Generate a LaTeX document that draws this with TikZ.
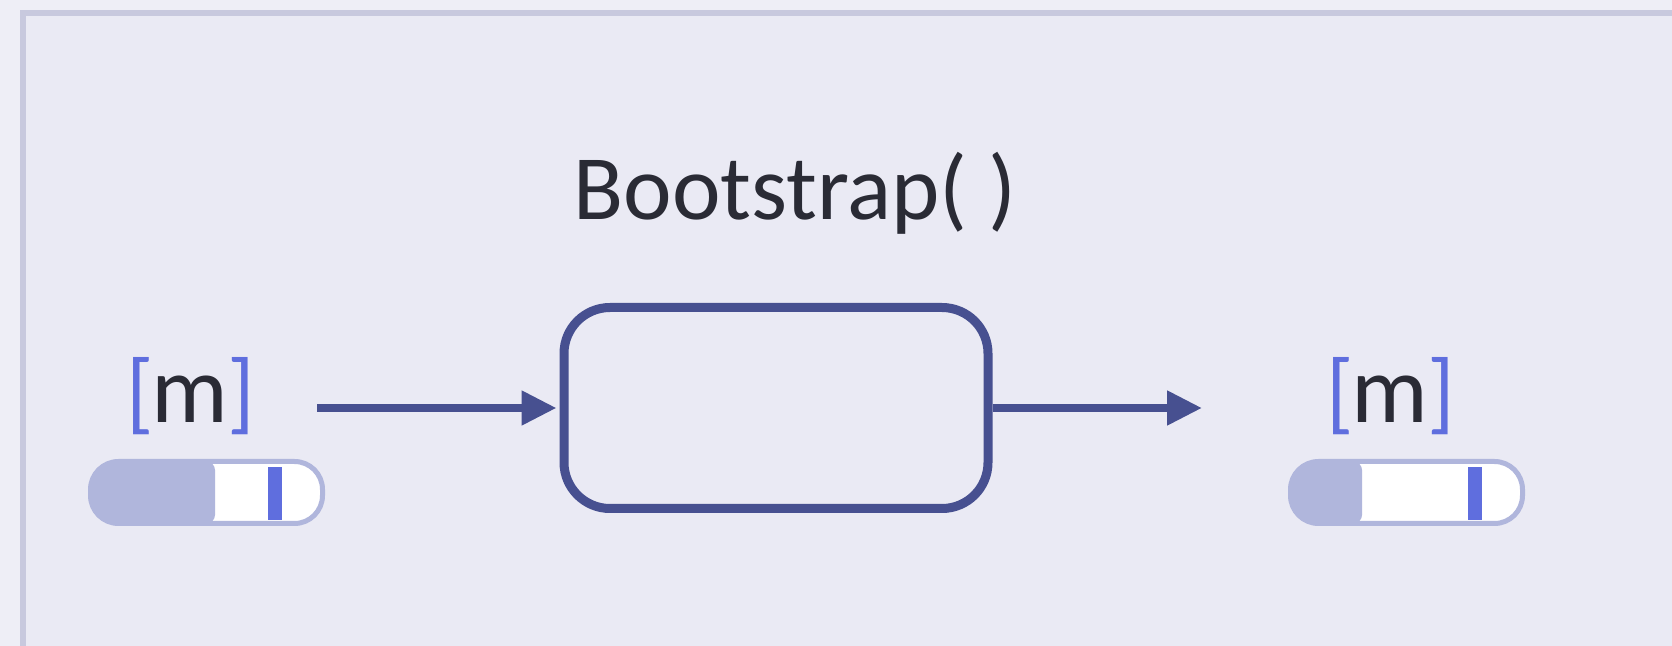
\documentclass[tikz,border=0pt]{standalone}
\usepackage{fontspec}
\setmainfont{Carlito}
\usetikzlibrary{arrows.meta}
\definecolor{pagebg}{HTML}{EEEEF6}
\definecolor{framebg}{HTML}{EAEAF4}
\definecolor{framecol}{HTML}{C8C9DE}
\definecolor{navy}{HTML}{475090}
\definecolor{inkdark}{HTML}{2A2B35}
\definecolor{brk}{HTML}{5F6EDE}
\definecolor{barcol}{HTML}{B0B6DC}
\newcommand\brkfont{\fontsize{45pt}{50pt}\selectfont\color{brk}}
\tikzset{
  bootbox/.style={draw=navy, line width=4.5pt, rounded corners=23pt,
    minimum width=212pt, minimum height=100.5pt, inner sep=0pt},
  flow/.style={navy, line width=4pt,
    -{Triangle[length=17.5pt, width=16.5pt]}},
  titletext/.style={text=inkdark, font=\fontsize{46pt}{50pt}\selectfont, inner sep=0pt, anchor=base},
  mtext/.style={text=inkdark, font=\fontsize{48pt}{52pt}\selectfont, inner sep=0pt, anchor=base},
  pillline/.style={draw=barcol, line width=2.5pt, rounded corners=14pt},
}
\begin{document}
\begin{tikzpicture}[x=0.5pt,y=-0.5pt]
\useasboundingbox (0,0) rectangle (1672,646);
\fill[pagebg] (0,0) rectangle (1672,646);
\draw[framecol, line width=3pt, fill=framebg] (23,13) rectangle (1700,700);

\node[titletext] (title) at (795,220) {Bootstrap( )};
\node[bootbox] (boot) at (776,408) {};

\coordinate (inStart) at (317,408);
\coordinate (outEnd) at (1202,408);
\draw[flow, shorten >=1.5pt] (inStart) -- (boot.west);
\draw[flow] (boot.east) -- (outEnd);

\foreach \off/\fe/\nm in {0/215/L, 1200/1362/R}{
  \node[mtext] (m\nm) at (190.5+\off,423) {{\brkfont[}\kern-1pt m\kern-0.5pt{\brkfont]}};
  \fill[white, rounded corners=14pt] (90.5+\off,461.5) rectangle (322.5+\off,523.5);
  \begin{scope}
    \clip[rounded corners=14pt] (90.5+\off,461.5) rectangle (322.5+\off,523.5);
    \fill[barcol, rounded corners=4pt] (80+\off,462) rectangle (\fe,523);
  \end{scope}
  \draw[pillline] (90.5+\off,461.5) rectangle (322.5+\off,523.5);
  \fill[brk] (268+\off,467) rectangle (282+\off,520);
}
\end{tikzpicture}
\end{document}
